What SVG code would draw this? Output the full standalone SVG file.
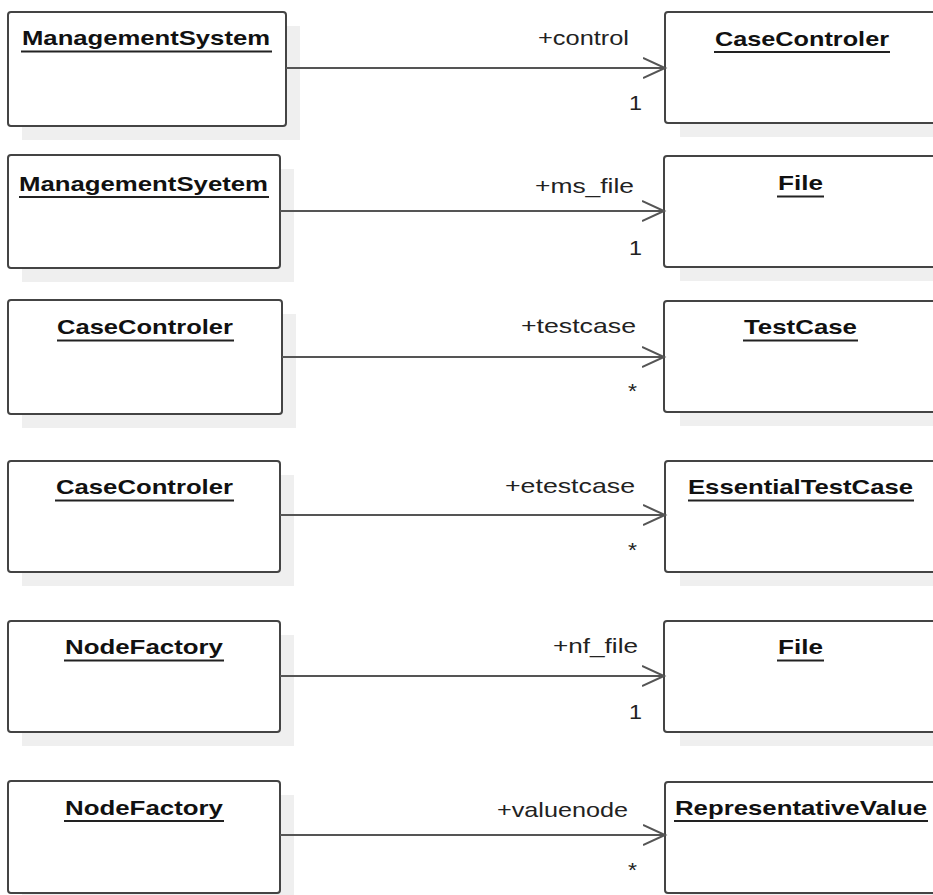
<svg xmlns="http://www.w3.org/2000/svg" width="933" height="895" viewBox="0 0 933 895">
<defs>
<style>
.box{fill:#ffffff;stroke:#444444;stroke-width:2;}
.shadow{fill:#efefef;stroke:none;}
.title{font-family:"Liberation Sans",Arial,sans-serif;font-weight:bold;font-size:21px;fill:#111111;}
.ul{stroke:#222222;stroke-width:2;}
.lbl{font-family:"Liberation Sans",Arial,sans-serif;font-size:21px;fill:#222222;}
.conn{stroke:#555555;stroke-width:2;fill:none;marker-end:url(#chev);}
</style>
<marker id="chev" markerUnits="userSpaceOnUse" markerWidth="26" markerHeight="24" refX="22" refY="11" orient="auto" viewBox="0 0 26 24">
<path d="M0,1 L22,11 L0,21" fill="none" stroke="#555555" stroke-width="2"/>
</marker>
</defs>
<rect width="933" height="895" fill="#ffffff"/>

<g id="ms1">
<rect class="shadow" x="22" y="26" width="278" height="114"/>
<rect class="box" x="8" y="12" width="278" height="114" rx="3"/>
<text class="title" x="22" y="45" textLength="248" lengthAdjust="spacingAndGlyphs">ManagementSystem</text>
<line class="ul" x1="21" y1="51.5" x2="272" y2="51.5"/>
</g>
<g id="cc1">
<rect class="shadow" x="680" y="26" width="280" height="111"/>
<rect class="box" x="665" y="12" width="274" height="111" rx="3"/>
<text class="title" x="715" y="46" textLength="174" lengthAdjust="spacingAndGlyphs">CaseControler</text>
<line class="ul" x1="714" y1="52" x2="890" y2="52"/>
</g>

<g id="ms2">
<rect class="shadow" x="22" y="169" width="272" height="113"/>
<rect class="box" x="8" y="155" width="272" height="113" rx="3"/>
<text class="title" x="19" y="191" textLength="249" lengthAdjust="spacingAndGlyphs">ManagementSyetem</text>
<line class="ul" x1="19" y1="197" x2="269" y2="197"/>
</g>
<g id="file1">
<rect class="shadow" x="680" y="170" width="280" height="111"/>
<rect class="box" x="664" y="156" width="275" height="111" rx="3"/>
<text class="title" x="778" y="190" textLength="45" lengthAdjust="spacingAndGlyphs">File</text>
<line class="ul" x1="777" y1="196.5" x2="824" y2="196.5"/>
</g>

<g id="cc2">
<rect class="shadow" x="22" y="314" width="274" height="114"/>
<rect class="box" x="8" y="300" width="274" height="114" rx="3"/>
<text class="title" x="57" y="334" textLength="176" lengthAdjust="spacingAndGlyphs">CaseControler</text>
<line class="ul" x1="57" y1="340.5" x2="234" y2="340.5"/>
</g>
<g id="tc">
<rect class="shadow" x="680" y="315" width="280" height="111"/>
<rect class="box" x="664" y="301" width="275" height="111" rx="3"/>
<text class="title" x="744" y="334" textLength="113" lengthAdjust="spacingAndGlyphs">TestCase</text>
<line class="ul" x1="743" y1="340.5" x2="858" y2="340.5"/>
</g>

<g id="cc3">
<rect class="shadow" x="22" y="475" width="272" height="111"/>
<rect class="box" x="8" y="461" width="272" height="111" rx="3"/>
<text class="title" x="56" y="494" textLength="177" lengthAdjust="spacingAndGlyphs">CaseControler</text>
<line class="ul" x1="55" y1="500.5" x2="234" y2="500.5"/>
</g>
<g id="etc">
<rect class="shadow" x="680" y="475" width="280" height="111"/>
<rect class="box" x="665" y="461" width="274" height="111" rx="3"/>
<text class="title" x="688" y="494" textLength="225" lengthAdjust="spacingAndGlyphs">EssentialTestCase</text>
<line class="ul" x1="688" y1="500.5" x2="914" y2="500.5"/>
</g>

<g id="nf1">
<rect class="shadow" x="22" y="635" width="272" height="111"/>
<rect class="box" x="8" y="621" width="272" height="111" rx="3"/>
<text class="title" x="65" y="654" textLength="158" lengthAdjust="spacingAndGlyphs">NodeFactory</text>
<line class="ul" x1="64" y1="660.5" x2="224" y2="660.5"/>
</g>
<g id="file2">
<rect class="shadow" x="680" y="635" width="280" height="111"/>
<rect class="box" x="664" y="621" width="275" height="111" rx="3"/>
<text class="title" x="778" y="654" textLength="45" lengthAdjust="spacingAndGlyphs">File</text>
<line class="ul" x1="777" y1="660.5" x2="824" y2="660.5"/>
</g>

<g id="nf2">
<rect class="shadow" x="22" y="795" width="272" height="112"/>
<rect class="box" x="8" y="781" width="272" height="112" rx="3"/>
<text class="title" x="65" y="815" textLength="158" lengthAdjust="spacingAndGlyphs">NodeFactory</text>
<line class="ul" x1="64" y1="821" x2="224" y2="821"/>
</g>
<g id="rv">
<rect class="shadow" x="680" y="796" width="280" height="111"/>
<rect class="box" x="665" y="782" width="274" height="111" rx="3"/>
<text class="title" x="675" y="815" textLength="252" lengthAdjust="spacingAndGlyphs">RepresentativeValue</text>
<line class="ul" x1="674" y1="821" x2="928" y2="821"/>
</g>

<g id="connectors">
<line class="conn" x1="286" y1="68" x2="665" y2="68"/>
<text class="lbl" x="538" y="45" textLength="91" lengthAdjust="spacingAndGlyphs">+control</text>
<text class="lbl" x="629" y="110" textLength="13" lengthAdjust="spacingAndGlyphs">1</text>

<line class="conn" x1="280" y1="211" x2="664" y2="211"/>
<text class="lbl" x="535" y="193" textLength="99" lengthAdjust="spacingAndGlyphs">+ms_file</text>
<text class="lbl" x="629" y="255" textLength="13" lengthAdjust="spacingAndGlyphs">1</text>

<line class="conn" x1="282" y1="357" x2="664" y2="357"/>
<text class="lbl" x="521" y="333" textLength="115" lengthAdjust="spacingAndGlyphs">+testcase</text>
<text class="lbl" x="628" y="398" textLength="9" lengthAdjust="spacingAndGlyphs">*</text>

<line class="conn" x1="280" y1="515" x2="665" y2="515"/>
<text class="lbl" x="505" y="493" textLength="130" lengthAdjust="spacingAndGlyphs">+etestcase</text>
<text class="lbl" x="628" y="557" textLength="9" lengthAdjust="spacingAndGlyphs">*</text>

<line class="conn" x1="280" y1="676" x2="664" y2="676"/>
<text class="lbl" x="553" y="653" textLength="85" lengthAdjust="spacingAndGlyphs">+nf_file</text>
<text class="lbl" x="629" y="719" textLength="13" lengthAdjust="spacingAndGlyphs">1</text>

<line class="conn" x1="280" y1="835" x2="665" y2="835"/>
<text class="lbl" x="497" y="817" textLength="131" lengthAdjust="spacingAndGlyphs">+valuenode</text>
<text class="lbl" x="628" y="877" textLength="9" lengthAdjust="spacingAndGlyphs">*</text>
</g>
</svg>
